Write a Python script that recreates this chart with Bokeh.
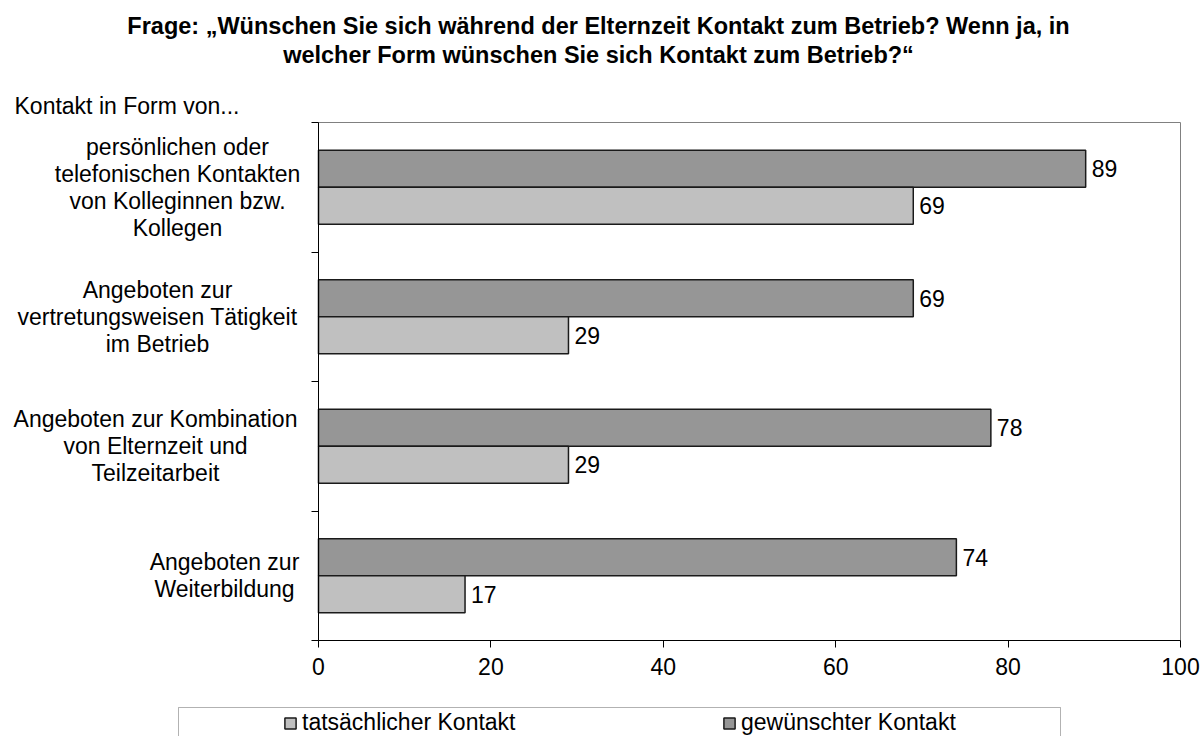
from bokeh.plotting import figure
from bokeh.models import (Range1d, FixedTicker, Label, LabelSet, ColumnDataSource,
                          Legend, LegendItem, BoxAnnotation)
from bokeh.core.properties import value
from bokeh.embed import file_html
from bokeh.resources import INLINE

# ---------------- data ----------------
categories = [
    "persönlichen oder\ntelefonischen Kontakten\nvon Kolleginnen bzw.\nKollegen",
    "Angeboten zur\nvertretungsweisen Tätigkeit\nim Betrieb",
    "Angeboten zur Kombination\nvon Elternzeit und\nTeilzeitarbeit",
    "Angeboten zur\nWeiterbildung",
]
gewuenscht = [89, 69, 78, 74]
tatsaechlich = [69, 29, 29, 17]
series_names = ["tatsächlicher Kontakt", "gewünschter Kontakt"]
x_ticks = [0, 20, 40, 60, 80, 100]
title_text = ("Frage: \u201eWünschen Sie sich während der Elternzeit Kontakt zum Betrieb? Wenn ja, in\n"
              "welcher Form wünschen Sie sich Kontakt zum Betrieb?\u201c")
axis_caption = "Kontakt in Form von..."

# ---------------- layout (canvas pixels) ----------------
W, H = 1200, 736
FRAME_L, FRAME_R, FRAME_T, FRAME_B = 318, 1180, 122, 640
N = len(categories)
label_centers_px = [177, 157, 155, 224]
FONT = "Liberation Sans"
FS = "23px"
DARK = "#969696"
LIGHT = "#c0c0c0"


def px_to_x(px):
    return (px - FRAME_L) / (FRAME_R - FRAME_L) * 100.0


def py_to_y(py):
    return (FRAME_B - py) / (FRAME_B - FRAME_T) * N


p = figure(width=W, height=H, output_backend="svg", toolbar_location=None,
           x_range=Range1d(px_to_x(0), px_to_x(W)),
           y_range=Range1d(py_to_y(H), py_to_y(0)),
           min_border=0)
p.title.visible = False
p.background_fill_color = "white"
p.border_fill_color = "white"
p.outline_line_color = None
p.xgrid.visible = False
p.ygrid.visible = False

# plot-area border (grey top/right; axes drawn on top in black)
p.quad(left=[0], right=[100], bottom=[0], top=[N], fill_color=None,
       line_color="#808080", line_width=1)

centers = [N - i - 0.5 for i in range(N)]
bh = 0.286
y_gew = [c + bh / 2 for c in centers]
y_tat = [c - bh / 2 for c in centers]

src_gew = ColumnDataSource(dict(y=y_gew, v=gewuenscht, t=[str(v) for v in gewuenscht]))
src_tat = ColumnDataSource(dict(y=y_tat, v=tatsaechlich, t=[str(v) for v in tatsaechlich]))

r_gew = p.hbar(y="y", right="v", left=0, height=bh, source=src_gew,
               fill_color=DARK, line_color="#1a1a1a", line_width=1.5)
r_tat = p.hbar(y="y", right="v", left=0, height=bh, source=src_tat,
               fill_color=LIGHT, line_color="#1a1a1a", line_width=1.5)

for src in (src_gew, src_tat):
    p.add_layout(LabelSet(x="v", y="y", text="t", source=src, x_offset=6,
                          text_align="left", text_baseline="middle",
                          text_font=value(FONT), text_font_size=value(FS),
                          text_color="black"))

# axes, fixed at the plot-area edges
p.xaxis.fixed_location = 0
p.xaxis.bounds = (0, 100)
p.xaxis.ticker = FixedTicker(ticks=x_ticks)
p.xaxis.axis_line_color = "black"
p.xaxis.major_tick_line_color = "black"
p.xaxis.major_tick_out = 7
p.xaxis.major_tick_in = 0
p.xaxis.minor_tick_line_color = None
p.xaxis.major_label_text_font = FONT
p.xaxis.major_label_text_font_size = FS
p.xaxis.major_label_text_color = "black"
p.xaxis.major_label_standoff = 10

p.yaxis.fixed_location = 0
p.yaxis.bounds = (0, N)
p.yaxis.ticker = FixedTicker(ticks=list(range(N + 1)))
p.yaxis.axis_line_color = "black"
p.yaxis.major_tick_line_color = "black"
p.yaxis.major_tick_out = 7
p.yaxis.major_tick_in = 0
p.yaxis.minor_tick_line_color = None
p.yaxis.major_label_overrides = {i: "" for i in range(N + 1)}

# category labels
for cat, c, cx in zip(categories, centers, label_centers_px):
    p.add_layout(Label(x=px_to_x(cx), y=c, text=cat, text_align="center",
                       text_baseline="middle", text_font=FONT, text_font_size=FS,
                       text_line_height=1.04, text_color="black"))

# title and caption
p.add_layout(Label(x=px_to_x(598), y=py_to_y(40), text=title_text, text_align="center",
                   text_baseline="middle", text_font=FONT, text_font_size="23.5px",
                   text_font_style="bold", text_line_height=1.08, text_color="black"))
p.add_layout(Label(x=px_to_x(14), y=py_to_y(105), text=axis_caption, text_align="left",
                   text_baseline="middle", text_font=FONT, text_font_size=FS,
                   text_color="black"))

# legend box
p.add_layout(BoxAnnotation(left=px_to_x(178), right=px_to_x(1060),
                           top=py_to_y(707), bottom=py_to_y(770),
                           fill_color="white", fill_alpha=1.0,
                           line_color="black", line_width=1))

legend = Legend(items=[LegendItem(label=series_names[0], renderers=[r_tat]),
                       LegendItem(label=series_names[1], renderers=[r_gew])],
                orientation="horizontal", location=(283 - 7, H - 743),
                padding=7, spacing=0, glyph_width=14, glyph_height=14,
                label_standoff=5, label_width=420, label_height=26,
                label_text_font=FONT, label_text_font_size=FS, label_text_color="black",
                border_line_alpha=0, background_fill_alpha=0, margin=0)
p.add_layout(legend, "center")

open("out.html", "w").write(file_html(p, INLINE))
